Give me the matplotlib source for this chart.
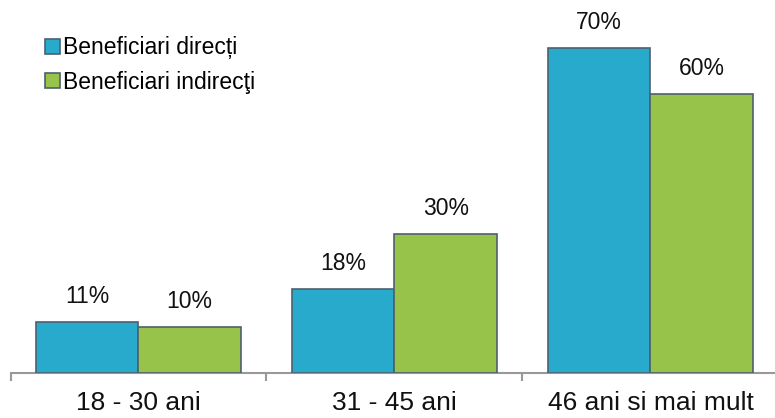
import matplotlib
matplotlib.use("Agg")
import matplotlib.pyplot as plt
import numpy as np

categories = ["18 - 30 ani", "31 - 45 ani", "46 ani si mai mult"]
series_names = ["Beneficiari direcți", "Beneficiari indirecţi"]
direct = [11, 18, 70]
indirect = [10, 30, 60]

plt.rcParams["font.family"] = ["Liberation Sans", "DejaVu Sans"]

fig = plt.figure(figsize=(7.75, 4.18), dpi=100)
ax = fig.add_axes([10.5 / 775, 45 / 418, 768 / 775, 372 / 418])

colors = ["#27AACB", "#97C34A"]
edge = "#4F5F6F"
width = 0.4
x = np.arange(len(categories))

for i, (vals, name, col) in enumerate(zip([direct, indirect], series_names, colors)):
    offs = (i - 0.5) * width
    bars = ax.bar(x + offs, vals, width, color=col, edgecolor=edge, linewidth=1.2,
                  label=name, zorder=3)
    for b, v in zip(bars, vals):
        ax.annotate(f"{v}%", (b.get_x() + b.get_width() / 2, v),
                    xytext=(0, 10), textcoords="offset points",
                    ha="center", va="bottom", fontsize=16.5, color="#111111")

ax.set_xlim(-0.5, 2.5)
ax.set_ylim(0, 80)
for s in ["top", "right", "left"]:
    ax.spines[s].set_visible(False)
ax.spines["bottom"].set_color("#999999")
ax.spines["bottom"].set_linewidth(1.5)
ax.set_yticks([])

# boundary ticks between categories, labels centred under each group
ax.set_xticks([-0.5, 0.5, 1.5, 2.5])
ax.set_xticklabels([])
ax.tick_params(axis="x", which="major", direction="out", length=6, width=1.5,
               color="#999999")
ax.set_xticks(x, minor=True)
ax.set_xticklabels(categories, minor=True, fontsize=19, color="#111111")
ax.tick_params(axis="x", which="minor", length=0, pad=13)

leg = ax.legend(loc="upper left", bbox_to_anchor=(0.045, 0.905), frameon=False,
                fontsize=16.5, handlelength=0.65, handleheight=0.65,
                handletextpad=0.15, labelspacing=0.5, borderaxespad=0,
                borderpad=0)

fig.savefig("out.png", dpi=100, facecolor="white")
